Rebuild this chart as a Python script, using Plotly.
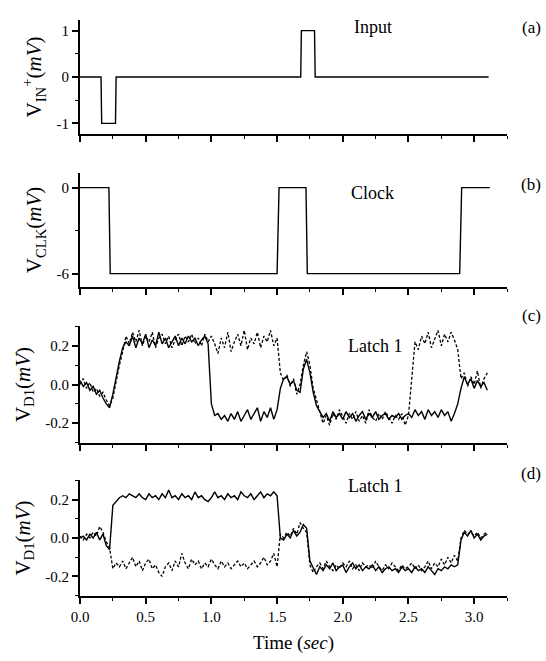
import numpy as np
import plotly.graph_objects as go

# ---------------- data ----------------
# (a) input pulses: breakpoints
a_t = [0.0, 0.16, 0.165, 0.27, 0.275, 1.68, 1.685, 1.785, 1.79, 3.11]
a_v = [0, 0, -1, -1, 0, 0, 1, 1, 0, 0]

# (b) clock: breakpoints
b_t = [0.0, 0.22, 0.23, 1.50, 1.515, 1.72, 1.73, 2.89, 2.905, 3.12]
b_v = [0, 0, -6, -6, 0, 0, -6, -6, 0, 0]

# sampling grid for the latch traces (0.025 s)
t = np.round(np.arange(125) * 0.025, 3)

c_solid = [0.02, -0.01, 0.01, -0.03, -0.01, -0.05, -0.03, -0.07, -0.10, -0.12,
           -0.05, 0.04, 0.12, 0.19, 0.22, 0.20, 0.25, 0.19, 0.24, 0.21,
           0.26, 0.19, 0.23, 0.20, 0.27, 0.21, 0.24, 0.19, 0.22, 0.25,
           0.20, 0.24, 0.21, 0.25, 0.22, 0.24, 0.20, 0.23, 0.25, 0.21,
           -0.10, -0.16, -0.15, -0.18, -0.16, -0.19, -0.15, -0.18, -0.14, -0.19,
           -0.16, -0.13, -0.18, -0.15, -0.12, -0.19, -0.14, -0.17, -0.12, -0.18,
           -0.13, -0.02, 0.03, 0.04, 0.00, 0.02, -0.03, -0.04, 0.08, 0.13,
           0.06, -0.04, -0.11, -0.14, -0.17, -0.15, -0.19, -0.14, -0.17, -0.15,
           -0.18, -0.14, -0.17, -0.15, -0.19, -0.16, -0.14, -0.18, -0.15, -0.17,
           -0.14, -0.18, -0.16, -0.15, -0.18, -0.16, -0.17, -0.15, -0.18, -0.16,
           -0.15, -0.17, -0.13, -0.16, -0.14, -0.18, -0.13, -0.16, -0.14, -0.17,
           -0.13, -0.16, -0.14, -0.19, -0.15, -0.10, -0.02, 0.04, 0.00, 0.03,
           -0.02, 0.02, -0.01, 0.01, -0.03]

c_dash = [0.00, 0.03, -0.02, 0.01, -0.04, -0.02, -0.06, -0.04, -0.08, -0.11,
          -0.07, 0.02, 0.10, 0.17, 0.25, 0.21, 0.27, 0.22, 0.28, 0.20,
          0.25, 0.22, 0.27, 0.19, 0.24, 0.26, 0.21, 0.25, 0.19, 0.23,
          0.26, 0.20, 0.25, 0.22, 0.26, 0.21, 0.24, 0.20, 0.26, 0.22,
          0.25, 0.21, 0.16, 0.24, 0.19, 0.27, 0.17, 0.22, 0.26, 0.20,
          0.28, 0.18, 0.24, 0.21, 0.27, 0.19, 0.25, 0.22, 0.28, 0.20,
          0.24, 0.06, 0.02, 0.05, -0.01, 0.03, -0.05, 0.00, 0.10, 0.17,
          0.10, -0.02, -0.08, -0.13, -0.20, -0.16, -0.21, -0.15, -0.18, -0.13,
          -0.17, -0.20, -0.15, -0.18, -0.14, -0.19, -0.16, -0.20, -0.13, -0.17,
          -0.19, -0.15, -0.18, -0.14, -0.17, -0.20, -0.16, -0.18, -0.15, -0.21,
          -0.16, 0.05, 0.22, 0.18, 0.25, 0.21, 0.27, 0.19, 0.24, 0.28,
          0.20, 0.26, 0.22, 0.27, 0.23, 0.18, 0.03, 0.06, -0.01, 0.04,
          0.00, 0.07, -0.02, 0.03, 0.06]

d_solid = [0.00, 0.01, -0.01, 0.02, 0.00, 0.03, -0.01, 0.02, -0.04, -0.06,
           0.17, 0.19, 0.21, 0.22, 0.21, 0.23, 0.22, 0.21, 0.23, 0.21,
           0.20, 0.23, 0.21, 0.22, 0.20, 0.23, 0.21, 0.25, 0.21, 0.22,
           0.20, 0.23, 0.21, 0.22, 0.20, 0.24, 0.21, 0.22, 0.20, 0.19,
           0.21, 0.24, 0.21, 0.22, 0.20, 0.23, 0.21, 0.22, 0.20, 0.24,
           0.22, 0.21, 0.23, 0.20, 0.22, 0.24, 0.21, 0.23, 0.22, 0.24,
           0.22, 0.00, -0.01, 0.02, 0.00, 0.04, 0.01, 0.03, 0.07, 0.05,
           -0.12, -0.16, -0.19, -0.15, -0.17, -0.14, -0.16, -0.13, -0.17, -0.15,
           -0.14, -0.18, -0.15, -0.13, -0.16, -0.14, -0.17, -0.15, -0.16, -0.14,
           -0.17, -0.15, -0.18, -0.16, -0.15, -0.17, -0.16, -0.18, -0.15, -0.17,
           -0.16, -0.18, -0.15, -0.17, -0.16, -0.18, -0.15, -0.17, -0.19, -0.16,
           -0.17, -0.15, -0.16, -0.14, -0.15, -0.14, -0.01, 0.03, 0.01, 0.04,
           0.00, 0.02, -0.01, 0.01, 0.02]

d_dash = [0.01, -0.01, 0.02, 0.00, 0.03, 0.01, 0.06, 0.03, -0.02, -0.05,
          -0.16, -0.13, -0.15, -0.12, -0.16, -0.13, -0.10, -0.15, -0.12, -0.17,
          -0.13, -0.11, -0.16, -0.14, -0.18, -0.20, -0.15, -0.13, -0.17, -0.12,
          -0.15, -0.08, -0.13, -0.16, -0.11, -0.14, -0.12, -0.16, -0.13, -0.15,
          -0.11, -0.14, -0.16, -0.12, -0.15, -0.13, -0.16, -0.14, -0.12, -0.15,
          -0.13, -0.16, -0.14, -0.12, -0.15, -0.13, -0.10, -0.14, -0.12, -0.08,
          -0.15, 0.02, 0.00, 0.03, 0.01, 0.05, 0.02, 0.08, 0.05, 0.03,
          -0.14, -0.18, -0.15, -0.13, -0.16, -0.12, -0.15, -0.17, -0.14, -0.16,
          -0.13, -0.15, -0.12, -0.16, -0.14, -0.17, -0.13, -0.15, -0.14, -0.16,
          -0.12, -0.15, -0.17, -0.14, -0.16, -0.13, -0.15, -0.17, -0.14, -0.16,
          -0.15, -0.13, -0.16, -0.14, -0.17, -0.15, -0.12, -0.16, -0.13, -0.15,
          -0.11, -0.14, -0.10, -0.13, -0.09, -0.12, 0.00, 0.04, 0.02, 0.03,
          0.01, 0.03, 0.00, 0.02, 0.03]

x_tickvals = [0.0, 0.5, 1.0, 1.5, 2.0, 2.5, 3.0]
x_ticktext = ["0.0", "0.5", "1.0", "1.5", "2.0", "2.5", "3.0"]

panel_titles = ["Input", "Clock", "Latch 1", "Latch 1"]
panel_letters = ["(a)", "(b)", "(c)", "(d)"]
y_titles = ["V<sub>IN</sub><sup>+</sup>(<i>mV</i>)",
            "V<sub>CLK</sub>(<i>mV</i>)",
            "V<sub>D1</sub>(<i>mV</i>)",
            "V<sub>D1</sub>(<i>mV</i>)"]

# ---------------- figure ----------------
FONT = "Liberation Serif, Times New Roman, serif"
W, H = 546, 661
ML, MR, MT, MB = 80, 39, 20, 65
PH = H - MT - MB

def ydom(top_px, bot_px):
    return [(H - MB - bot_px) / PH, (H - MB - top_px) / PH]

doms = [ydom(20, 134), ydom(173, 287), ydom(326, 443), ydom(480, 596)]

fig = go.Figure()
line_solid = dict(color="black", width=1.4)
line_dash = dict(color="black", width=1.3, dash="3px,2px")

fig.add_trace(go.Scatter(x=a_t, y=a_v, mode="lines", line=line_solid, xaxis="x", yaxis="y"))
fig.add_trace(go.Scatter(x=b_t, y=b_v, mode="lines", line=line_solid, xaxis="x2", yaxis="y2"))
fig.add_trace(go.Scatter(x=t, y=c_dash, mode="lines", line=line_dash, xaxis="x3", yaxis="y3"))
fig.add_trace(go.Scatter(x=t, y=c_solid, mode="lines", line=line_solid, xaxis="x3", yaxis="y3"))
fig.add_trace(go.Scatter(x=t, y=d_dash, mode="lines", line=line_dash, xaxis="x4", yaxis="y4"))
fig.add_trace(go.Scatter(x=t, y=d_solid, mode="lines", line=line_solid, xaxis="x4", yaxis="y4"))

xcommon = dict(range=[0, 3.25], showline=True, linecolor="black", linewidth=2,
               ticks="outside", ticklen=6, tickwidth=1.5, tickcolor="black",
               tickvals=x_tickvals, ticktext=x_ticktext,
               minor=dict(tickvals=[0.25, 0.75, 1.25, 1.75, 2.25, 2.75, 3.25],
                          ticks="outside", ticklen=3, tickwidth=1.2, tickcolor="black"),
               showgrid=False, zeroline=False,
               tickfont=dict(family=FONT, size=15, color="black"))

ycommon = dict(showline=True, linecolor="black", linewidth=2,
               ticks="outside", ticklen=6, tickwidth=1.5, tickcolor="black",
               showgrid=False, zeroline=False,
               tickfont=dict(family=FONT, size=15, color="black"),
               title=dict(font=dict(family=FONT, size=21, color="black"), standoff=9))

lay = dict(width=W, height=H, margin=dict(l=ML, r=MR, t=MT, b=MB),
           paper_bgcolor="white", plot_bgcolor="white", showlegend=False,
           font=dict(family=FONT, color="black"))

y_ranges = [[-1.23, 1.23], [-6.93, 1.02], [-0.302, 0.302], [-0.302, 0.302]]
y_tv = [[-1, 0, 1], [-6, 0], [-0.2, 0.0, 0.2], [-0.2, 0.0, 0.2]]
y_tt = [["-1", "0", "1"], ["-6", "0"], ["-0.2", "0.0", "0.2"], ["-0.2", "0.0", "0.2"]]
y_minor = [[-0.5, 0.5], [-3], [-0.3, -0.1, 0.1, 0.3], [-0.3, -0.1, 0.1, 0.3]]

for i in range(4):
    sfx = "" if i == 0 else str(i + 1)
    xa = dict(xcommon, domain=[0, 1], anchor="y" + sfx, showticklabels=(i == 3))
    if i > 0:
        xa["matches"] = "x"
    if i == 3:
        xa["title"] = dict(text="Time (<i>sec</i>)", font=dict(family=FONT, size=19, color="black"), standoff=12)
    ya = dict(ycommon, domain=doms[i], anchor="x" + sfx, range=y_ranges[i],
              tickvals=y_tv[i], ticktext=y_tt[i],
              minor=dict(tickvals=y_minor[i], ticks="outside", ticklen=3, tickwidth=1.2, tickcolor="black"))
    ya["title"] = dict(ycommon["title"], text=y_titles[i])
    lay["xaxis" + sfx] = xa
    lay["yaxis" + sfx] = ya

fig.update_layout(**lay)

# panel labels (pixel positions converted to paper coordinates)
def px2paper(px, py):
    return (px - ML) / (W - ML - MR), (H - MB - py) / PH

title_pos = [(373, 27), (372, 193), (375, 346), (375, 486)]
letter_pos = [(531, 27), (531, 184), (531, 315), (531, 473)]
for i in range(4):
    xp, yp = px2paper(*title_pos[i])
    fig.add_annotation(x=xp, y=yp, xref="paper", yref="paper", text=panel_titles[i],
                       showarrow=False, font=dict(family=FONT, size=18, color="black"),
                       xanchor="center", yanchor="middle")
    xp, yp = px2paper(*letter_pos[i])
    fig.add_annotation(x=xp, y=yp, xref="paper", yref="paper", text=panel_letters[i],
                       showarrow=False, font=dict(family=FONT, size=17, color="black"),
                       xanchor="center", yanchor="middle")

fig.write_html("out.html", config={"displayModeBar": False},
               post_script="document.body.style.margin='0';document.body.style.overflow='hidden';")
